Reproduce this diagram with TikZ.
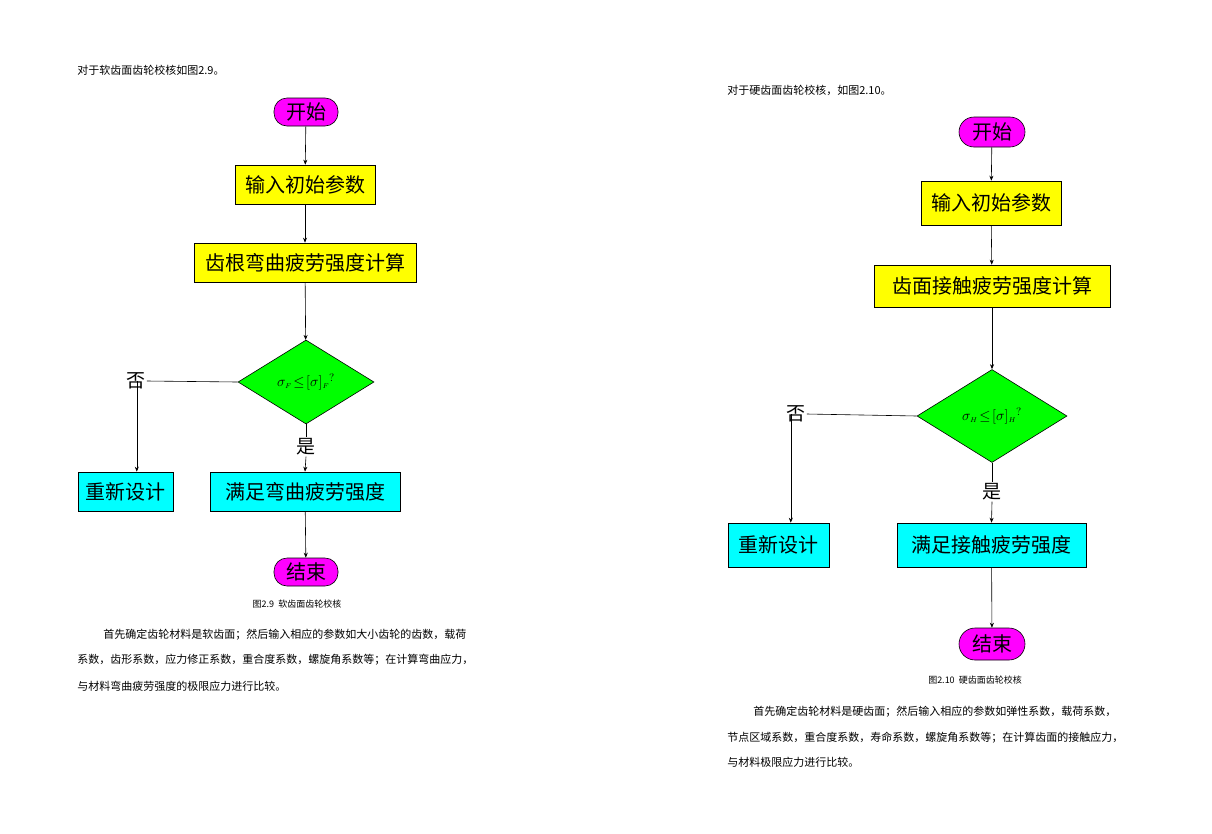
\documentclass[tikz,border=0pt]{standalone}
\usepackage{fontspec}
\setmainfont{Liberation Serif}
\newfontfamily\cjk{Noto Sans CJK SC}
\usetikzlibrary{shapes.geometric,arrows.meta}
\definecolor{mag}{RGB}{255,0,255}
\definecolor{yel}{RGB}{255,255,0}
\definecolor{cy}{RGB}{0,255,255}
\definecolor{grn}{RGB}{0,255,0}
\begin{document}
\begin{tikzpicture}[x=1pt,y=-1pt,
  pill/.style={draw,fill=mag,rounded corners=13pt,inner sep=0pt,font=\cjk\fontsize{20}{22}\selectfont},
  box/.style={draw,inner sep=0pt,font=\cjk\fontsize{20}{22}\selectfont},
  dia/.style={draw,fill=grn,diamond,inner sep=0pt,font=\fontsize{15}{16}\selectfont},
  lab/.style={font=\cjk\fontsize{19}{20}\selectfont,inner sep=1pt},
  txt/.style={font=\cjk\fontsize{11}{12}\selectfont,anchor=west,inner sep=0pt},
  captxt/.style={font=\cjk\fontsize{9}{10}\selectfont,inner sep=0pt},
  arr/.style={-{Stealth[length=5pt,width=4pt]}},
  line width=0.6pt]
\useasboundingbox (0,0) rectangle (1212,833);
% left
\node[txt] (t1) at (77,70) {对于软齿面齿轮校核如图2.9。};
\node[pill,minimum width=64pt,minimum height=28pt] (s1) at (306,112) {开始};
\node[box,fill=yel,minimum width=140pt,minimum height=39pt] (a1) at (305,184.5) {输入初始参数};
\node[box,fill=yel,minimum width=222pt,minimum height=39pt] (b1) at (305,262.5) {齿根弯曲疲劳强度计算};
\node[dia,minimum width=136pt,minimum height=84pt,aspect=1.62] (d1) at (306,382) {$\sigma_{\scriptscriptstyle F}\!\leq\![\sigma]_{\scriptscriptstyle F}{}^{?}$};
\node[lab] (n1) at (136,381) {否};
\node[lab] (y1) at (306,447) {是};
\node[box,fill=cy,minimum width=95pt,minimum height=39pt] (r1) at (125.5,491.5) {重新设计};
\node[box,fill=cy,minimum width=190pt,minimum height=39pt] (m1) at (305,491.5) {满足弯曲疲劳强度};
\node[pill,minimum width=64pt,minimum height=28pt] (e1) at (306,572) {结束};
\node[captxt] (c1) at (297,604) {图2.9\ \ 软齿面齿轮校核};
\node[txt] (p1) at (103,635) {首先确定齿轮材料是软齿面；然后输入相应的参数如大小齿轮的齿数，载荷};
\node[txt] (p2) at (77,660) {系数，齿形系数，应力修正系数，重合度系数，螺旋角系数等；在计算弯曲应力，};
\node[txt] (p3) at (77,686) {与材料弯曲疲劳强度的极限应力进行比较。};
\draw[arr] (s1) -- (a1);
\draw[arr] (a1) -- (b1);
\draw[arr] (b1) -- (d1);
\draw (d1.west) -- (n1.east);
\draw[arr] (n1.east) ++(-10,0) coordinate (k1) -- (k1 |- r1.north);
\draw (d1.south) -- (y1.north);
\draw[arr] (y1.south) -- (m1.north);
\draw[arr] (m1) -- (e1);
% right
\node[txt] (t2) at (727,90) {对于硬齿面齿轮校核，如图2.10。};
\node[pill,minimum width=66pt,minimum height=30pt,rounded corners=15pt] (s2) at (992,132) {开始};
\node[box,fill=yel,minimum width=140pt,minimum height=44pt] (a2) at (991,203) {输入初始参数};
\node[box,fill=yel,minimum width=236pt,minimum height=42pt] (b2) at (992,286) {齿面接触疲劳强度计算};
\node[dia,minimum width=150pt,minimum height=93pt,aspect=1.61] (d2) at (992,416) {$\sigma_{\scriptscriptstyle H}\!\leq\![\sigma]_{\scriptscriptstyle H}{}^{?}$};
\node[lab] (n2) at (796,414) {否};
\node[lab] (y2) at (992,492) {是};
\node[box,fill=cy,minimum width=101pt,minimum height=44pt] (r2) at (778.5,545) {重新设计};
\node[box,fill=cy,minimum width=189pt,minimum height=44pt] (m2) at (991.5,545) {满足接触疲劳强度};
\node[pill,minimum width=66pt,minimum height=32pt,rounded corners=16pt] (e2) at (992,644) {结束};
\node[captxt] (c2) at (975,680) {图2.10\ \ 硬齿面齿轮校核};
\node[txt] (q1) at (753,712) {首先确定齿轮材料是硬齿面；然后输入相应的参数如弹性系数，载荷系数，};
\node[txt] (q2) at (727,738) {节点区域系数，重合度系数，寿命系数，螺旋角系数等；在计算齿面的接触应力，};
\node[txt] (q3) at (727,762) {与材料极限应力进行比较。};
\draw[arr] (s2) -- (a2);
\draw[arr] (a2) -- (b2);
\draw[arr] (b2) -- (d2);
\draw (d2.west) -- (n2.east);
\draw[arr] (n2.east) ++(-16,0) coordinate (k2) -- (k2 |- r2.north);
\draw (d2.south) -- (y2.north);
\draw[arr] (y2.south) -- (m2.north);
\draw[arr] (m2) -- (e2);
\end{tikzpicture}
\end{document}
